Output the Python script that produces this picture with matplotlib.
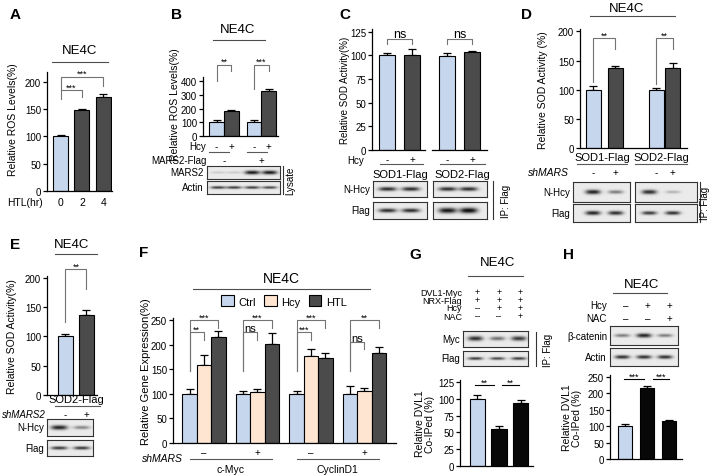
import numpy as np
import matplotlib
matplotlib.use('Agg')
import matplotlib.pyplot as plt
from matplotlib.lines import Line2D
from matplotlib import transforms

plt.rcParams['font.family'] = ['Liberation Sans', 'DejaVu Sans']

# ---- data ----
# A
a_time = ['0', '2', '4']
a_vals = [100, 148, 172]
a_err = [3, 2.5, 5]
# B
b_vals = [100, 182, 105, 330]
b_err = [15, 8, 12, 10]
b_hcy = ['-', '+', '-', '+']
b_mars2 = ['-', '+']
b_band_mars2 = [0.15, 0.15, 0.95, 0.95]
b_band_actin = [0.8, 0.8, 0.8, 0.75]
# C
c_sod1 = [100, 101]
c_sod1_err = [2.5, 6]
c_sod2 = [99, 103.5]
c_sod2_err = [4, 1.5]
c_hcy = ['-', '+']
c_band_nhcy = [[0.85, 0.85], [0.85, 0.85]]
c_band_flag = [[0.85, 0.85], [0.95, 1.0]]
# D
d_vals = [100, 137, 100, 138]
d_err = [6, 4, 3, 8]
d_sh = ['-', '+', '-', '+']
d_band_nhcy = [[0.9, 0.5], [0.85, 0.25]]
d_band_flag = [[0.9, 0.85], [0.8, 0.85]]
# E
e_vals = [100, 137]
e_err = [4, 8]
e_sh = ['-', '+']
e_band_nhcy = [0.9, 0.45]
e_band_flag = [0.8, 0.8]
# F
f_groups = ['–', '+', '–', '+']
f_genes = ['c-Myc', 'CyclinD1']
f_ctrl = [100, 100, 100, 100]
f_ctrl_err = [9, 6, 6, 15]
f_hcy = [159, 104, 176, 105]
f_hcy_err = [19, 6, 14, 7]
f_htl = [215, 202, 173, 183]
f_htl_err = [12, 22, 10, 12]
f_outer = ['***', '***', '***', '**']
f_inner = ['**', 'ns', '***', 'ns']
# G
g_rows = ['DVL1-Myc', 'NRX-Flag', 'Hcy', 'NAC']
g_signs = [['+', '+', '+'], ['+', '+', '+'], ['–', '+', '+'], ['–', '–', '+']]
g_vals = [100, 55, 94]
g_err = [6, 5, 4]
g_band_myc = [0.85, 0.55, 0.8]
g_band_flag = [0.8, 0.75, 0.8]
# H
h_rows = ['Hcy', 'NAC']
h_signs = [['–', '+', '+'], ['–', '–', '+']]
h_vals = [101, 215, 115]
h_err = [5, 6, 5]
h_band_cat = [0.5, 0.9, 0.5]
h_band_actin = [0.85, 0.85, 0.85]

LIGHT = '#c6d6ec'
DARK = '#4b4b4b'
PEACH = '#fde5d1'
BLACK = '#080808'
GRAY = '0.45'
FS = 7  # general small text

W, H = 709, 477
fig = plt.figure(figsize=(W / 100, H / 100), dpi=100)


def fx(x):
    return x / W


def fy(y):
    return 1 - y / H


def txt(x, y, s, size=FS, **kw):
    kw.setdefault('ha', 'center')
    kw.setdefault('va', 'center')
    fig.text(fx(x), fy(y), s, fontsize=size, **kw)


def hline(x0, x1, y, color='0.3', lw=0.8):
    fig.add_artist(Line2D([fx(x0), fx(x1)], [fy(y), fy(y)], color=color, lw=lw))


def vline(x, y0, y1, color='0.2', lw=0.8):
    fig.add_artist(Line2D([fx(x), fx(x)], [fy(y0), fy(y1)], color=color, lw=lw))


def px_ax(x0, y0, x1, y1):
    return fig.add_axes([fx(x0), fy(y1), (x1 - x0) / W, (y1 - y0) / H])


def bar_ax(x0, y0, x1, y1, xlim, ylim, yticks=None):
    ax = px_ax(x0, y0, x1, y1)
    ax.set_xlim(xlim)
    ax.set_ylim(ylim)
    ax.set_xticks([])
    ax.spines[['top', 'right']].set_visible(False)
    ax.spines[['left', 'bottom']].set_linewidth(0.9)
    if yticks is None:
        ax.spines['left'].set_visible(False)
        ax.set_yticks([])
    else:
        ax.set_yticks(yticks)
    ax.tick_params(axis='y', labelsize=7, length=3, width=0.9, pad=1.2)
    ax.patch.set_visible(False)
    return ax


def bars(ax, xs, vals, errs, colors, width):
    ax.bar(xs, vals, width, color=colors, edgecolor='k', linewidth=0.8, zorder=2)
    ax.errorbar(xs, vals, yerr=[np.zeros(len(errs)), errs], fmt='none', ecolor='k',
                elinewidth=0.9, capsize=3, capthick=0.9, zorder=1)


def row(ax, xs, labels, y, size=FS, **kw):
    tr = transforms.blended_transform_factory(ax.transData, fig.transFigure)
    for x, s in zip(xs, labels):
        ax.text(x, fy(y), s, transform=tr, ha='center', va='center', fontsize=size,
                clip_on=False, **kw)


def uline(ax, x0, x1, y, color='0.35', lw=0.8):
    tr = transforms.blended_transform_factory(ax.transData, fig.transFigure)
    ax.add_line(Line2D([x0, x1], [fy(y), fy(y)], transform=tr, color=color, lw=lw, clip_on=False))


def bracket(ax, x0, x1, top, l0, r0, label, size=6.5, gap=0.5):
    ax.plot([x0, x0, x1, x1], [l0, top, top, r0], color=GRAY, lw=0.8, clip_on=False)
    ax.annotate(label, ((x0 + x1) / 2, top), xytext=(0, gap), textcoords='offset points',
                ha='center', va='baseline', fontsize=size, annotation_clip=False)


def sigline(ax, x0, x1, y, label):
    ax.plot([x0, x1], [y, y], color='k', lw=0.8, clip_on=False)
    ax.annotate(label, ((x0 + x1) / 2, y), xytext=(0, 0.5), textcoords='offset points',
                ha='center', va='baseline', fontsize=6.5, annotation_clip=False)


def blot(x0, y0, x1, y1, lanes, levels, label=None, half=7.5, thick=2.4):
    ax = px_ax(x0, y0, x1, y1)
    w, h = x1 - x0, y1 - y0
    X, Y = np.meshgrid(np.linspace(0, w, 240), np.linspace(0, h, 60))
    dark = np.zeros_like(X)
    for c, v in zip(lanes, levels):
        dark += v * np.exp(-np.abs((X - c * w) / half) ** 3) * \
            np.exp(-((Y - h / 2) / (thick * (0.5 + 0.5 * v))) ** 2)
    ax.imshow(0.92 - 0.88 * np.clip(dark, 0, 1), cmap='gray', vmin=0, vmax=1,
              extent=(0, w, 0, h), aspect='auto', interpolation='bilinear')
    ax.set_xticks([])
    ax.set_yticks([])
    for s in ax.spines.values():
        s.set_linewidth(0.8)
        s.set_edgecolor('0.2')
    if label:
        txt(x0 - 3, (y0 + y1) / 2, label, FS, ha='right')


def panel(x, y, s):
    txt(x, y, s, 11, weight='bold')


def title(x, y, x0, x1, ly, size=9.5):
    txt(x, y, 'NE4C', size)
    hline(x0, x1, ly)


# ---- A ----
panel(15, 15, 'A')
title(80, 51, 52, 108, 63)
axA = bar_ax(47, 73, 112, 192, (-0.63, 2.4), (0, 218), [0, 50, 100, 150, 200])
xa = np.arange(len(a_vals))
bars(axA, xa, a_vals, a_err, [LIGHT, DARK, DARK], 0.7)
bracket(axA, 0, 1, 185, 168, 172, '***')
bracket(axA, 0, 2, 209, 185, 193, '***')
row(axA, xa, a_time, 203, 7.5)
txt(25, 203, 'HTL(hr)', 7.5)
txt(13, 120, 'Relative ROS Levels(%)', 7.5, rotation=90)

# ---- B ----
panel(177, 15, 'B')
title(238, 30, 213, 265, 41)
axB = bar_ax(203, 78, 278, 137, (-0.93, 4.18), (0, 430), [0, 100, 200, 300, 400])
xb = np.array([0, 1, 2.55, 3.55])
bars(axB, xb, b_vals, b_err, [LIGHT, DARK, LIGHT, DARK], 1.0)
bracket(axB, xb[0], xb[1], 518, 400, 473, '**')
bracket(axB, xb[2], xb[3], 518, 340, 473, '***')
txt(175, 105, 'Relative ROS Levels(%)', 7.5, rotation=90)
txt(206, 147, 'Hcy', ha='right')
row(axB, xb, b_hcy, 147)
uline(axB, -0.5, 0.85, 153)
uline(axB, 2.05, 3.4, 153)
txt(207, 161, 'MARS2-Flag', ha='right')
row(axB, [0.5, 3.05], b_mars2, 161)
blot(207, 167, 280, 180, [0.15, 0.37, 0.62, 0.86], b_band_mars2, 'MARS2', thick=2.0)
blot(207, 182, 280, 195, [0.15, 0.37, 0.62, 0.86], b_band_actin, 'Actin', thick=1.5)
vline(283, 167, 195)
txt(290, 181, 'Lysate', 7, rotation=90)

# ---- C ----
panel(345, 15, 'C')
ticksC = [0, 25, 50, 75, 100, 125]
axC1 = bar_ax(372, 30, 425, 151, (-0.6, 1.52), (0, 128), ticksC)
axC2 = bar_ax(432, 30, 487, 151, (-0.6, 1.6), (0, 128))
xc = np.arange(2)
bars(axC1, xc, c_sod1, c_sod1_err, [LIGHT, DARK], 0.64)
bars(axC2, xc, c_sod2, c_sod2_err, [LIGHT, DARK], 0.64)
for ax in (axC1, axC2):
    bracket(ax, 0, 1, 117, 112, 112, 'ns', size=9, gap=1.5)
    row(ax, xc, c_hcy, 160)
txt(345, 90, 'Relative SOD Activity(%)', 7, rotation=90)
txt(364, 160.5, 'Hcy', ha='right')
uline(axC1, -0.28, 1.44, 165)
uline(axC2, -0.28, 1.52, 165)
row(axC1, [0.55], ['SOD1-Flag'], 175, 8)
row(axC2, [0.6], ['SOD2-Flag'], 175, 8)
blot(373, 182, 427, 198, [0.27, 0.70], c_band_nhcy[0], 'N-Hcy', half=9, thick=2.2)
blot(433, 182, 487, 198, [0.27, 0.66], c_band_nhcy[1], half=9, thick=2.2)
blot(373, 203, 427, 220, [0.27, 0.70], c_band_flag[0], 'Flag', half=9, thick=2.2)
blot(433, 203, 487, 220, [0.27, 0.66], c_band_flag[1], half=9, thick=2.8)
vline(493, 182, 220)
txt(506, 201, 'IP: Flag', 7, rotation=90)

# ---- D ----
panel(526, 15, 'D')
title(627, 9, 590, 675, 17)
axD = bar_ax(580, 30, 687, 149, (-0.61, 4.25), (0, 204), [0, 50, 100, 150, 200])
xd = np.array([0, 1, 2.85, 3.6])
bars(axD, xd, d_vals, d_err, [LIGHT, DARK, LIGHT, DARK], 0.68)
bracket(axD, xd[0], xd[1], 188, 113, 169, '**')
bracket(axD, xd[2], xd[3], 188, 110, 169, '**')
txt(543, 90, 'Relative SOD Activity (%)', 7.5, rotation=90)
row(axD, [0.39, 3.07], ['SOD1-Flag', 'SOD2-Flag'], 158, 8)
uline(axD, -0.75, 1.52, 165)
uline(axD, 1.89, 4.25, 165)
txt(548, 173, 'shMARS', 7.5, style='italic')
row(axD, xd, d_sh, 173)
blot(573, 183, 630, 203, [0.35, 0.75], d_band_nhcy[0], 'N-Hcy', thick=2.4)
blot(635, 183, 697, 203, [0.23, 0.61], d_band_nhcy[1], thick=2.4)
blot(573, 205, 630, 223, [0.35, 0.75], d_band_flag[0], 'Flag', thick=2.2)
blot(635, 205, 697, 223, [0.23, 0.61], d_band_flag[1], thick=2.0)
vline(700, 183, 223)
txt(705, 203, 'IP: Flag', 7, rotation=90)

# ---- E ----
panel(15, 245, 'E')
title(72, 245, 55, 97, 255)
axE = bar_ax(47, 277, 97, 396, (-0.88, 1.5), (0, 203), [0, 50, 100, 150, 200])
xe = np.arange(2)
bars(axE, xe, e_vals, e_err, [LIGHT, DARK], 0.71)
bracket(axE, 0, 1, 215, 125, 180, '**')
txt(12, 337, 'Relative SOD Activity(%)', 7.5, rotation=90)
row(axE, [0.5], ['SOD2-Flag'], 400, 8)
uline(axE, -0.5, 1.64, 407)
txt(24, 415, 'shMARS2', 7, style='italic')
row(axE, xe, e_sh, 415)
blot(47, 420, 93, 437, [0.26, 0.74], e_band_nhcy, 'N-Hcy', half=8)
blot(47, 441, 93, 457, [0.26, 0.74], e_band_flag, 'Flag', half=8, thick=1.8)

# ---- F ----
panel(144, 253, 'F')
title(281, 279, 193, 370, 290, 10)
axF = bar_ax(173, 319, 396, 444, (-0.58, 3.59), (0, 254), [0, 50, 100, 150, 200, 250])
xf = np.arange(len(f_groups))
wf = 0.27
bc = axF.bar(xf - wf, f_ctrl, wf, color=LIGHT, edgecolor='k', linewidth=0.8, zorder=2, label='Ctrl')
bh = axF.bar(xf, f_hcy, wf, color=PEACH, edgecolor='k', linewidth=0.8, zorder=2, label='Hcy')
bt = axF.bar(xf + wf, f_htl, wf, color=DARK, edgecolor='k', linewidth=0.8, zorder=2, label='HTL')
for off, v, e in [(-wf, f_ctrl, f_ctrl_err), (0, f_hcy, f_hcy_err), (wf, f_htl, f_htl_err)]:
    axF.errorbar(xf + off, v, yerr=[np.zeros(len(e)), e], fmt='none', ecolor='k',
                 elinewidth=0.9, capsize=3, capthick=0.9, zorder=1)
for i in range(len(f_groups)):
    inner_top = 225 if i < 3 else 205
    bracket(axF, i - wf, i + wf, 249, 147, 233, f_outer[i])
    bracket(axF, i - wf, i, inner_top, 147, inner_top - 15, f_inner[i],
            size=8 if f_inner[i] == 'ns' else 6.5, gap=1.0 if f_inner[i] == 'ns' else 0.5)
fig.legend(handles=[bc, bh, bt], loc='center', bbox_to_anchor=(fx(284), fy(302)), ncol=3,
           frameon=False, fontsize=8, handlelength=1.1, handleheight=1.1,
           handletextpad=0.4, columnspacing=0.8, borderpad=0)
txt(146, 372, 'Relative Gene Expression(%)', 8, rotation=90)
row(axF, xf, f_groups, 453)
txt(162, 459, 'shMARS', 7.5, style='italic')
uline(axF, -0.27, 1.27, 460)
uline(axF, 1.73, 3.27, 460)
row(axF, [0.5, 2.5], f_genes, 470, 7.5)

# ---- G ----
panel(415, 255, 'G')
title(498, 263, 468, 523, 277)
axG = bar_ax(460, 381, 533, 467, (-0.81, 2.58), (0, 128), [0, 25, 50, 75, 100, 125])
xg = np.arange(3)
bars(axG, xg, g_vals, g_err, [LIGHT, BLACK, BLACK], 0.7)
sigline(axG, -0.1, 0.75, 120, '**')
sigline(axG, 1.15, 1.95, 120, '**')
for k, (lab, signs) in enumerate(zip(g_rows, g_signs)):
    y = 293 + k * 8
    txt(462, y, lab, 6.5, ha='right')
    row(axG, xg, signs, y, 6.5)
blot(463, 332, 528, 348, [0.19, 0.53, 0.86], g_band_myc, 'Myc', thick=2.4)
blot(463, 352, 528, 367, [0.19, 0.53, 0.86], g_band_flag, 'Flag', thick=1.6)
vline(536, 333, 367)
txt(548, 350, 'IP: Flag', 7, rotation=90)
txt(425, 424, 'Relative DVL1\nCo-IPed (%)', 7.5, rotation=90, linespacing=1.0)

# ---- H ----
panel(568, 255, 'H')
title(642, 285, 613, 667, 294)
axH = bar_ax(610, 376, 682, 460, (-0.71, 2.6), (0, 256), [0, 50, 100, 150, 200, 250])
xh = np.arange(3)
bars(axH, xh, h_vals, h_err, [LIGHT, BLACK, BLACK], 0.64)
sigline(axH, -0.07, 0.85, 244, '***')
sigline(axH, 1.26, 2.0, 244, '***')
for k, (lab, signs) in enumerate(zip(h_rows, h_signs)):
    y = 306 + k * 13
    txt(607, y, lab, FS, ha='right')
    row(axH, xh, signs, y)
blot(610, 327, 678, 346, [0.18, 0.5, 0.81], h_band_cat, 'β-catenin', thick=2.2)
blot(610, 349, 678, 367, [0.18, 0.5, 0.81], h_band_actin, 'Actin', thick=2.0)
txt(572, 418, 'Relative DVL1\nCo-IPed (%)', 7.5, rotation=90, linespacing=1.0)

fig.savefig('out.png', dpi=100)
